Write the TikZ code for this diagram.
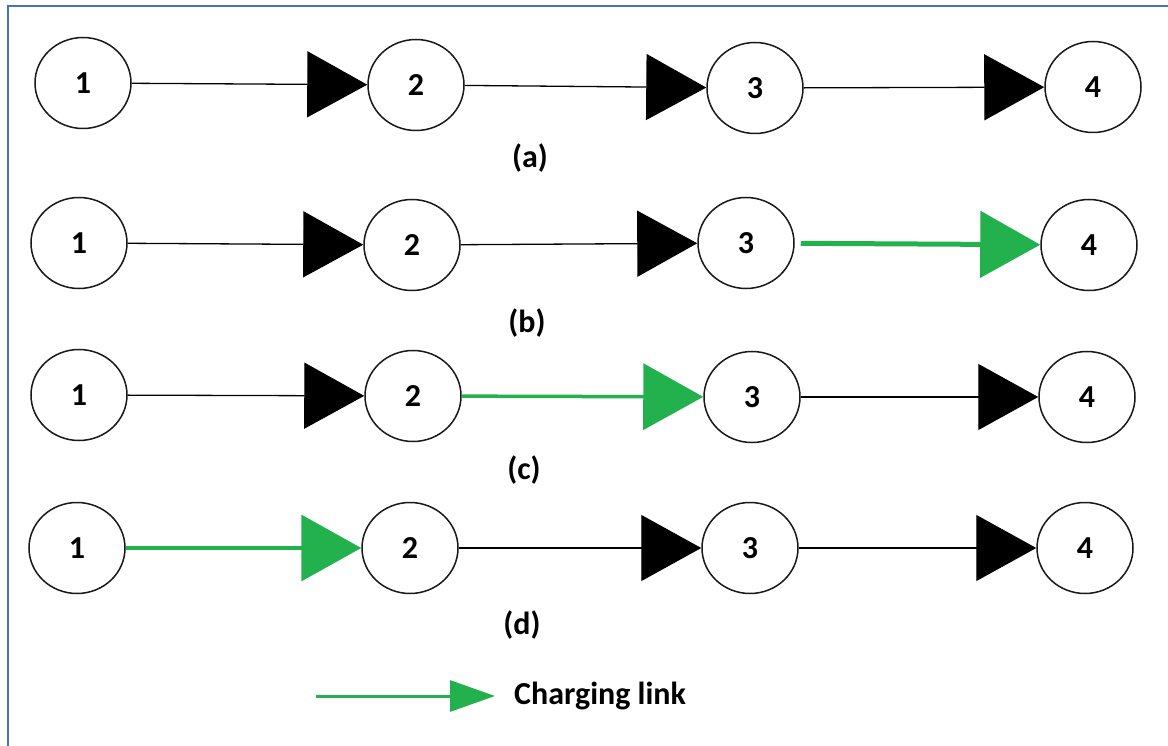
\documentclass[tikz,border=0pt]{standalone}
\usepackage{fontspec}
\setmainfont{Carlito}
\usetikzlibrary{shapes.geometric,arrows.meta}
\definecolor{linkgreen}{RGB}{34,177,76}
\definecolor{frameblue}{RGB}{68,114,196}
\tikzset{
  station/.style={ellipse,draw=black!90,line width=1.5pt,minimum width=96pt,minimum height=91pt,inner sep=0pt,
    font=\fontsize{32}{38}\selectfont\bfseries},
  caption/.style={font=\fontsize{32}{38}\selectfont\bfseries,inner sep=0pt},
  link/.style={draw=black,line width=1.3pt,-{Triangle[length=60pt,width=66pt]}},
  charge/.style={draw=linkgreen,line width=5pt,-{Triangle[length=60pt,width=66pt]}},
}
\begin{document}
\begin{tikzpicture}[x=1pt,y=-1pt]
\useasboundingbox (0,0) rectangle (1168,746);
\fill[white] (0,0) rectangle (1168,746);
\draw[frameblue,line width=2.5pt] (8,746) -- (8,6) -- (1168,6);

% (a) all links idle
\node[station] (a1) at (83,83) {1};
\node[station] (a2) at (416,85) {2};
\node[station] (a3) at (755,88) {3};
\node[station] (a4) at (1093,87) {4};
\draw[link] (a1) -- (a2);
\draw[link] (a2) -- (a3);
\draw[link] (a3) -- (a4);
\node[caption] (ca) at (530,158) {(a)};

% (b) link 3-4 charging
\node[station] (b1) at (79,243) {1};
\node[station] (b2) at (412,245) {2};
\node[station] (b3) at (746,243) {3};
\node[station] (b4) at (1089,245) {4};
\draw[link] (b1) -- (b2);
\draw[link] (b2) -- (b3);
\draw[charge,shorten <=6pt] (b3) -- (b4);
\node[caption] (cb) at (527,323) {(b)};

% (c) link 2-3 charging
\node[station] (c1) at (79,395) {1};
\node[station] (c2) at (413,396) {2};
\node[station] (c3) at (752,397) {3};
\node[station] (c4) at (1087,397) {4};
\draw[link] (c1) -- (c2);
\draw[charge,line width=3.5pt] (c2) -- (c3);
\draw[link] (c3) -- (c4);
\node[caption] (cc) at (524,470) {(c)};

% (d) link 1-2 charging
\node[station] (d1) at (77,548) {1};
\node[station] (d2) at (410,548) {2};
\node[station] (d3) at (750,548) {3};
\node[station] (d4) at (1085,548) {4};
\draw[charge,line width=3.5pt] (d1) -- (d2);
\draw[link] (d2) -- (d3);
\draw[link] (d3) -- (d4);
\node[caption] (cd) at (522,625) {(d)};

% legend
\coordinate (ls) at (316,696);
\coordinate (le) at (495,696);
\draw[draw=linkgreen,line width=3pt,-{Triangle[length=45pt,width=31pt]}] (ls) -- (le);
\node[caption,anchor=west] (lt) at (514,696) {Charging link};
\end{tikzpicture}
\end{document}
